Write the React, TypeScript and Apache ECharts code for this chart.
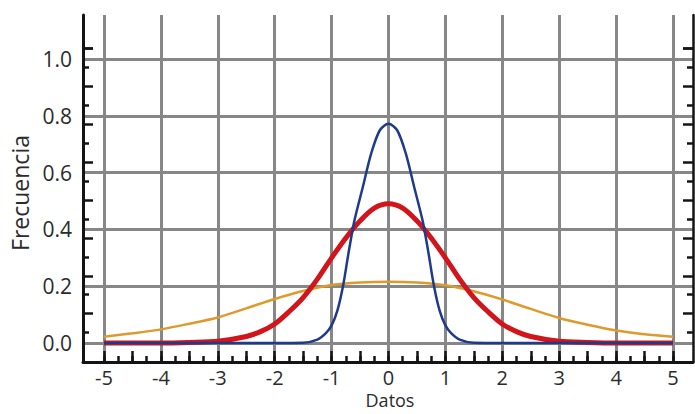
import React, { useEffect, useRef } from "react";
import * as echarts from "echarts";

// ---- data ----
const xTickValues = [-5, -4, -3, -2, -1, 0, 1, 2, 3, 4, 5];
const yTickLabels = ["0.0", "0.2", "0.4", "0.6", "0.8", "1.0"];

const orangeX = [-5, -4.5, -4, -3.5, -3, -2.5, -2, -1.5, -1, -0.5, 0, 0.5, 1, 1.5, 2, 2.5, 3, 3.5, 4, 4.5, 5];
const orangeY = [0.022, 0.034, 0.048, 0.068, 0.09, 0.122, 0.155, 0.183, 0.204, 0.213, 0.216, 0.213, 0.203, 0.182, 0.153, 0.12, 0.088, 0.064, 0.044, 0.031, 0.022];

const redX = [-5, -4, -3.5, -3, -2.5, -2.25, -2, -1.75, -1.5, -1.25, -1, -0.75, -0.5, -0.25, 0, 0.25, 0.5, 0.75, 1, 1.25, 1.5, 1.75, 2, 2.25, 2.5, 3, 3.5, 4, 5];
const redY = [0, 0, 0.002, 0.006, 0.023, 0.04, 0.067, 0.11, 0.16, 0.225, 0.3, 0.37, 0.43, 0.475, 0.49, 0.475, 0.43, 0.37, 0.3, 0.225, 0.16, 0.11, 0.067, 0.04, 0.023, 0.006, 0.002, 0, 0];

const blueX = [-5, -3, -2, -1.5, -1.25, -1.1, -1, -0.9, -0.8, -0.7, -0.6, -0.45, -0.3, -0.15, 0, 0.15, 0.3, 0.45, 0.6, 0.7, 0.8, 0.9, 1, 1.1, 1.25, 1.5, 2, 3, 5];
const blueY = [0, 0, 0, 0.001, 0.012, 0.035, 0.062, 0.113, 0.2, 0.32, 0.43, 0.55, 0.67, 0.75, 0.772, 0.75, 0.67, 0.55, 0.43, 0.32, 0.2, 0.113, 0.062, 0.035, 0.012, 0.001, 0, 0, 0];

const FONT = "'Open Sans', 'Noto Sans', sans-serif";
const TEXT = "#2b2b2b";
const GRIDC = "#878787";
const INK = "#141414";

function zip(xs: number[], ys: number[]) {
  return xs.map((x, i) => [x, ys[i]]);
}

export default function App() {
  const ref = useRef<HTMLDivElement>(null);
  useEffect(() => {
    const chart = echarts.init(ref.current!, null, { renderer: "svg" });
    const hiddenX = (gridIndex: number) => ({ type: "value", gridIndex, min: 0, max: 1, show: false, axisLine: { onZero: false } });
    const tickY = (gridIndex: number, position: string, min: number, max: number, len: number) => ({
      type: "value",
      gridIndex,
      position,
      min,
      max,
      interval: 2 / 15,
      axisLine: { show: false, onZero: false },
      axisTick: { show: true, inside: true, length: len, lineStyle: { color: INK, width: 2.5 } },
      axisLabel: { show: false },
      splitLine: { show: false },
    });
    const option: any = {
      animation: false,
      backgroundColor: "#ffffff",
      grid: [
        { left: 104, right: 22, top: 15, bottom: 52 }, // data grid
        { left: 83, right: 2, top: 59, bottom: 71 }, // y labels + horizontal lines
        { left: 83, right: 2, top: 15, bottom: 52 }, // frame
        { left: 83, right: 2, top: 67.5, bottom: 81.4 }, // short y ticks
        { left: 83, right: 2, top: 48.6, bottom: 100.3 }, // long y ticks
      ],
      xAxis: [
        {
          type: "value",
          gridIndex: 0,
          position: "bottom",
          min: -5,
          max: 5,
          interval: 1,
          axisLine: { show: false, onZero: false },
          axisTick: { show: true, inside: true, length: 6, lineStyle: { color: INK, width: 2.5 } },
          minorTick: { show: true, splitNumber: 4, length: 6, lineStyle: { color: INK, width: 2.5 } },
          splitLine: { show: true, lineStyle: { color: GRIDC, width: 3 } },
          axisLabel: {
            margin: 5,
            fontSize: 20,
            fontFamily: FONT,
            color: TEXT,
            formatter: (v: number) => (xTickValues.indexOf(v) >= 0 ? String(v) : ""),
          },
        },
        {
          type: "value",
          gridIndex: 0,
          position: "bottom",
          min: -5,
          max: 5,
          interval: 0.5,
          axisLine: { show: false, onZero: false },
          axisTick: { show: true, inside: true, length: 11, lineStyle: { color: INK, width: 2.5 } },
          axisLabel: { show: false },
          splitLine: { show: false },
        },
        hiddenX(1),
        {
          type: "value",
          gridIndex: 2,
          position: "bottom",
          min: 0,
          max: 1,
          axisLine: { show: true, onZero: false, lineStyle: { color: INK, width: 3 } },
          axisTick: { show: false },
          axisLabel: { show: false },
          splitLine: { show: false },
        },
        hiddenX(3),
        hiddenX(4),
      ],
      yAxis: [
        { type: "value", gridIndex: 0, min: -19 / 284, max: 328 / 284, show: false, axisLine: { onZero: false } },
        {
          type: "value",
          gridIndex: 1,
          min: 0,
          max: 1,
          interval: 0.2,
          axisLine: { show: false, onZero: false },
          axisTick: { show: false },
          splitLine: { show: true, lineStyle: { color: GRIDC, width: 3 } },
          axisLabel: {
            margin: 11,
            fontSize: 21,
            fontFamily: FONT,
            color: TEXT,
            formatter: (v: number) => yTickLabels[Math.round(v / 0.2)] ?? "",
          },
        },
        {
          type: "value",
          gridIndex: 2,
          position: "left",
          min: 0,
          max: 1,
          axisLine: { show: true, onZero: false, lineStyle: { color: INK, width: 3 } },
          axisTick: { show: false },
          axisLabel: { show: false },
          splitLine: { show: false },
        },
        {
          type: "value",
          gridIndex: 2,
          position: "right",
          min: 0,
          max: 1,
          axisLine: { show: true, onZero: false, lineStyle: { color: INK, width: 2.5 } },
          axisTick: { show: false },
          axisLabel: { show: false },
          splitLine: { show: false },
        },
        tickY(3, "left", 0.0367, 0.97, 6),
        tickY(3, "right", 0.0367, 0.97, 6),
        tickY(4, "left", 0.1033, 1.0367, 10),
        tickY(4, "right", 0.1033, 1.0367, 10),
      ],
      series: [
        {
          name: "ancha",
          type: "line",
          xAxisIndex: 0,
          yAxisIndex: 0,
          data: zip(orangeX, orangeY),
          smooth: 0.3,
          showSymbol: false,
          z: 3,
          lineStyle: { color: "#dc9b2c", width: 2.5 },
        },
        {
          name: "media",
          type: "line",
          xAxisIndex: 0,
          yAxisIndex: 0,
          data: zip(redX, redY),
          smooth: 0.3,
          showSymbol: false,
          z: 4,
          lineStyle: { color: "#d2141b", width: 5 },
        },
        {
          name: "estrecha",
          type: "line",
          xAxisIndex: 0,
          yAxisIndex: 0,
          data: zip(blueX, blueY),
          smooth: 0.3,
          showSymbol: false,
          z: 5,
          lineStyle: { color: "#1d3b8a", width: 2.5 },
        },
      ],
      graphic: [
        {
          type: "text",
          x: 20,
          y: 193,
          rotation: Math.PI / 2,
          style: {
            text: "Frecuencia",
            fontSize: 23,
            fontFamily: FONT,
            fill: TEXT,
            textAlign: "center",
            textVerticalAlign: "middle",
          },
        },
        {
          type: "text",
          x: 390,
          y: 400,
          style: {
            text: "Datos",
            fontSize: 18,
            fontFamily: FONT,
            fill: TEXT,
            textAlign: "center",
            textVerticalAlign: "middle",
          },
        },
      ],
    };
    chart.setOption(option);
    return () => chart.dispose();
  }, []);
  return (
    <div
      ref={ref}
      style={{ position: "absolute", left: 0, top: 0, width: 695, height: 414, background: "#fff" }}
    />
  );
}
